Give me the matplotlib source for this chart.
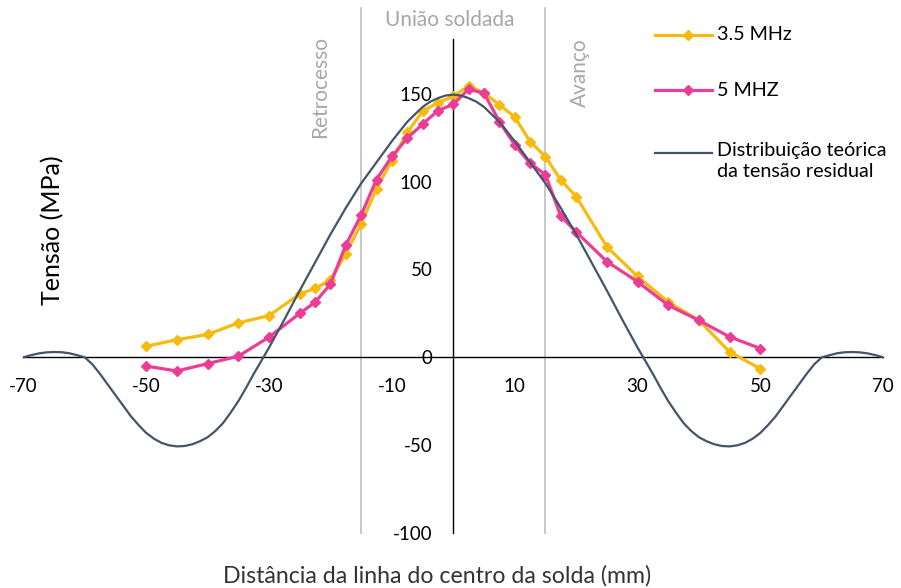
import matplotlib.pyplot as plt
from matplotlib.lines import Line2D

plt.rcParams['font.family'] = ['Lato', 'DejaVu Sans']
plt.rcParams['axes.unicode_minus'] = False

# measured stress, 3.5 MHz probe
x_35 = [-50, -45, -40, -35, -30, -25, -22.5, -20, -17.5, -15, -12.5, -10, -7.5, -5, -2.5, 0,
        2.5, 5, 7.5, 10, 12.5, 15, 17.5, 20, 25, 30, 35, 40, 45, 50]
y_35 = [6.3, 10, 13, 19.6, 23.7, 36, 39.2, 44, 59, 76, 96, 112, 128, 140, 145, 148.5,
        154.5, 150.5, 143.7, 136.8, 122.8, 114.2, 100.9, 91.5, 62.9, 46, 31.5, 21, 3, -6.5]

# measured stress, 5 MHz probe
x_5 = [-50, -45, -40, -35, -30, -25, -22.5, -20, -17.5, -15, -12.5, -10, -7.5, -5, -2.5, 0,
       2.5, 5, 7.5, 10, 12.5, 15, 17.5, 20, 25, 30, 35, 40, 45, 50]
y_5 = [-5, -7.8, -3.6, 0.6, 11.5, 25, 31.3, 41.7, 63.9, 81, 101.2, 114.3, 124.7, 132.7, 140.4, 144,
       152.6, 150.3, 134.2, 120.9, 110.4, 104, 80.3, 71.4, 54.5, 43, 29.6, 21, 11.6, 5]

# theoretical residual stress distribution (finer where it bends)
x_teo = [-70, -68.75, -67.5, -66.25, -65, -63.75, -62.5, -61.25, -60, -58.75, -57.5, -56.25,
         -55, -53.75, -52.5, -51.25, -50, -48.75, -47.5, -46.25, -45, -43.75, -42.5, -41.25,
         -40, -38.75, -37.5, -36.25, -35, -33.75, -32.5, -31.25, -30, -27.5, -25, -22.5, -20,
         -17.5, -15, -12.5, -10, -7.5, -5, -3.75, -2.5, -1.25, 0,
         1.25, 2.5, 3.75, 5, 7.5, 10, 12.5, 15, 17.5, 20, 22.5, 25, 27.5,
         30, 31.25, 32.5, 33.75, 35, 36.25, 37.5, 38.75, 40, 41.25, 42.5, 43.75, 45, 46.25,
         47.5, 48.75, 50, 51.25, 52.5, 53.75, 55, 56.25, 57.5, 58.75, 60, 61.25, 62.5, 63.75,
         65, 66.25, 67.5, 68.75, 70]
y_teo = [0, 1.2, 2.2, 2.8, 3, 2.9, 2.3, 1.2, 0, -4, -9.5, -15.5,
         -21.5, -27.5, -33.5, -38.5, -43, -46.3, -48.7, -50.1, -50.7, -50.5, -49.5, -47.8,
         -45.5, -42, -37.5, -31.5, -25, -17.5, -9.5, -2, 5.5, 21.5, 38, 54, 70,
         85, 99, 111, 123, 134, 142.5, 145.5, 147.5, 149, 149.5,
         149, 147.5, 145.5, 142.5, 134, 123, 111, 99, 85, 70, 54, 38, 21.5,
         5.5, -2, -9.5, -17.5, -25, -31.5, -37.5, -42, -45.5, -47.8, -49.5, -50.5, -50.7, -50.1,
         -48.7, -46.3, -43, -38.5, -33.5, -27.5, -21.5, -15.5, -9.5, -4, 0, 1.2, 2.3, 2.9,
         3, 2.8, 2.2, 1.2, 0]

x_ticks = [-70, -50, -30, -10, 10, 30, 50, 70]
y_ticks = [-100, -50, 0, 50, 100, 150]
zone_edges = [-15, 15]

YELLOW = '#F7BA0F'
PINK = '#EC3D96'
NAVY = '#44546A'
GRAY = '#A6A6A6'

fig = plt.figure(figsize=(9.01, 5.88), dpi=100)
ax = fig.add_axes([23.3 / 901, 55 / 588, 860 / 901, 493.7 / 588])
ax.set_xlim(-70, 70)
ax.set_ylim(-100, 181)

for s in ['top', 'right']:
    ax.spines[s].set_visible(False)
ax.spines['left'].set_position(('data', 0))
ax.spines['bottom'].set_position(('data', 0))
ax.spines['left'].set_linewidth(1.0)
ax.spines['bottom'].set_linewidth(1.0)

ax.set_xticks(x_ticks)
ax.set_yticks(y_ticks)
ax.tick_params(length=0, pad=15, labelsize=13.5, colors='black')

# weld zone boundaries
for xe in zone_edges:
    ax.axvline(xe, ymin=0, ymax=(199 + 100) / 281, color='#BFBFBF', lw=1.2,
               clip_on=False, zorder=1)

ax.plot(x_35, y_35, color=YELLOW, lw=2.3, marker='D', ms=5.5, zorder=3)
ax.plot(x_5, y_5, color=PINK, lw=2.3, marker='D', ms=5.5, zorder=4)
ax.plot(x_teo, y_teo, color=NAVY, lw=1.6, zorder=5)

ax.text(-21.7, 154, 'Retrocesso', rotation=90, ha='center', va='center',
        color=GRAY, fontsize=15)
ax.text(20.6, 162, 'Avanço', rotation=90, ha='center', va='center',
        color=GRAY, fontsize=15)
ax.text(-0.5, 192, 'União soldada', ha='center', va='center',
        color=GRAY, fontsize=15, clip_on=False)

fig.text(53 / 901, 1 - 230 / 588, 'Tensão (MPa)', rotation=90, ha='center',
         va='center', fontsize=18)
fig.text(437 / 901, 1 - 576 / 588, 'Distância da linha do centro da solda (mm)',
         ha='center', va='center', fontsize=16.7, color='#333333')

# legend drawn by hand so the keys sit where the reference has them
leg = [(35, YELLOW, 'D', 2.3, '3.5 MHz'),
       (90, PINK, 'D', 2.3, '5 MHZ'),
       (153, NAVY, None, 1.6, 'Distribuição teórica\nda tensão residual')]
for ypx, col, mk, lw, lab in leg:
    yf = 1 - ypx / 588
    fig.add_artist(Line2D([655 / 901, 712 / 901], [yf, yf], color=col, lw=lw,
                          transform=fig.transFigure))
    if mk:
        fig.add_artist(Line2D([688 / 901], [yf], color=col, marker=mk, ms=5.5,
                              transform=fig.transFigure))
    if '\n' in lab:
        fig.text(717 / 901, yf + 11 / 588, lab, ha='left', va='top', fontsize=14.2,
                 linespacing=1.3)
    else:
        fig.text(717 / 901, yf, lab, ha='left', va='center', fontsize=14.2)

fig.savefig('out.png', dpi=100)
